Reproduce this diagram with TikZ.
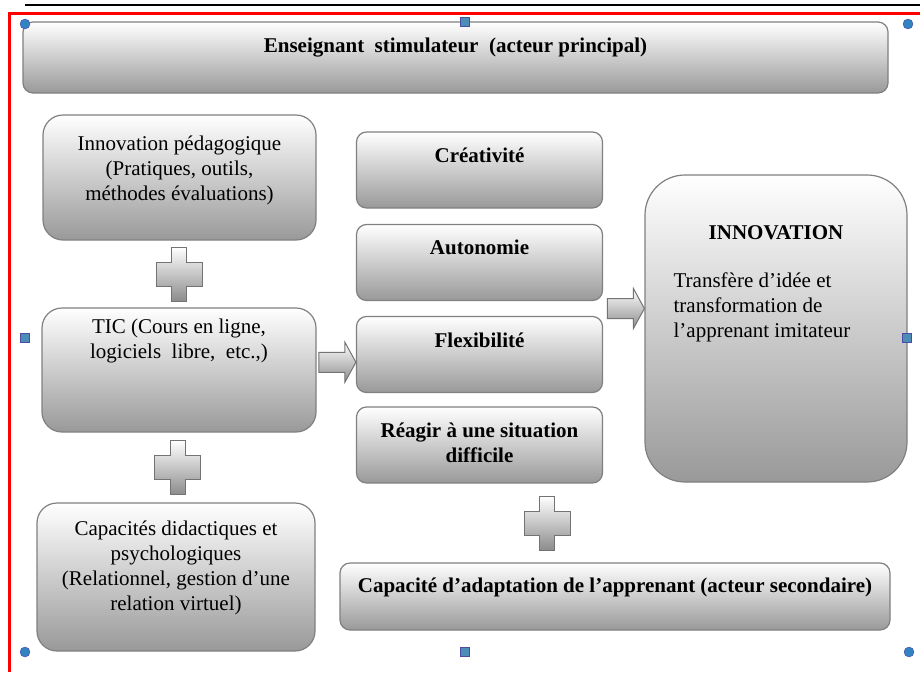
\documentclass[tikz,border=0pt]{standalone}
\usepackage{fontspec}
\setmainfont{Liberation Serif}
\usetikzlibrary{calc}

\begin{document}
\begin{tikzpicture}[x=1pt, y=-1pt,
    boite/.style={draw=black!50, line width=1.2pt, rounded corners=10pt, top color=white, bottom color=black!40,
        minimum width=246pt, minimum height=76pt, inner sep=0pt},
    grande/.style={boite, rounded corners=20pt},
    txt/.style={anchor=base, align=center, inner sep=0pt, font=\fontsize{21}{25}\selectfont},
    gras/.style={txt, font=\fontsize{21}{25}\selectfont\bfseries},
    rond/.style={circle, fill=blue!45!cyan!70!black!80, draw=blue!50!black!70, inner sep=0pt, minimum size=10pt},
    carre/.style={rectangle, fill=blue!40!cyan!60!black!70, draw=blue!50!black!70, inner sep=0pt, minimum size=9pt},
    plussign/.pic={\shade[draw=black!55, line width=1pt, top color=white, bottom color=black!45]
        (-7.5,-27) -- (7.5,-27) -- (7.5,-12) -- (23,-12) -- (23,12) -- (7.5,12) -- (7.5,27) -- (-7.5,27)
        -- (-7.5,12) -- (-23,12) -- (-23,-12) -- (-7.5,-12) -- cycle;},
    fleche/.pic={\shade[draw=black!55, line width=1pt, top color=white, bottom color=black!45]
        (-37,-10) -- (-11,-10) -- (-11,-20) -- (0,0) -- (-11,20) -- (-11,10) -- (-37,10) -- cycle;}]
    \useasboundingbox (0,0) rectangle (920,672);
    \draw[line width=2pt] (25,5) -- (920,5);
    \draw[red, line width=3pt] (920,13.5) -- (9,13.5) -- (9,672);

    \node[boite, minimum width=865pt, minimum height=71pt] (ens) at (455.5,57.5) {};
    \node[grande, minimum width=273pt, minimum height=125pt] (inno) at (179.5,177.5) {};
    \node[grande, minimum width=274pt, minimum height=124pt] (tic) at (179,370) {};
    \node[grande, minimum width=278pt, minimum height=148pt] (capa) at (176,577) {};
    \node[boite] (crea) at (479.5,170) {};
    \node[boite] (auto) at (479.5,262.5) {};
    \node[boite] (flex) at (479.5,354.5) {};
    \node[boite] (reag) at (479.5,445) {};
    \node[boite, minimum width=550pt, minimum height=67pt] (adap) at (615,596.5) {};
    \node[boite, rounded corners=40pt, minimum width=262pt, minimum height=307pt] (innov) at (776,328.5) {};

    \node[gras] (ens-t) at ($(ens.north)+(0,31)$) {Enseignant~ stimulateur~ (acteur principal)};
    \node[txt] (inno-t) at ($(inno.north)+(0,86)$) {Innovation pédagogique\\(Pratiques, outils,\\méthodes évaluations)};
    \node[txt] (tic-t) at ($(tic.north)+(0,51)$) {TIC (Cours en ligne,\\logiciels~ libre,~ etc.,)};
    \node[txt] (capa-t) at ($(capa.north)+(0,108)$) {Capacités didactiques et\\psychologiques\\(Relationnel, gestion d’une\\relation virtuel)};
    \node[gras] (crea-t) at ($(crea.north)+(0,31)$) {Créativité};
    \node[gras] (auto-t) at ($(auto.north)+(0,31)$) {Autonomie};
    \node[gras] (flex-t) at ($(flex.north)+(0,32)$) {Flexibilité};
    \node[gras] (reag-t) at ($(reag.north)+(0,56)$) {Réagir à une situation\\difficile};
    \node[gras] (adap-t) at ($(adap.north)+(0,30)$) {Capacité d’adaptation de l’apprenant (acteur secondaire)};
    \node[gras] (innov-t) at ($(innov.north)+(0,65)$) {INNOVATION};
    \node[txt, anchor=base west, align=left] (innov-d) at ($(innov.north west)+(29,163)$) {Transfère d’idée et\\transformation de\\l’apprenant imitateur};

    \pic at ($(inno.south)!0.5!(tic.north)$) {plussign};
    \pic at ($(tic.south)!0.5!(capa.north)$) {plussign};
    \pic at ($(reag.south)!0.5!(adap.north)$) {plussign};
    \coordinate (m1) at ($(tic.east)!0.5!(flex.west)$);
    \coordinate (m2) at ($(auto.east)!0.5!(flex.east)$);
    \pic at (flex.west |- m1) {fleche};
    \pic at (innov.west |- m2) {fleche};

    \foreach \x/\y [count=\i] in {25/24, 908/24, 25/652, 909/652}
        \node[rond] (r\i) at (\x,\y) {};
    \foreach \x/\y [count=\i] in {465/22, 25/338, 907/338, 465/652}
        \node[carre] (c\i) at (\x,\y) {};
\end{tikzpicture}
\end{document}
